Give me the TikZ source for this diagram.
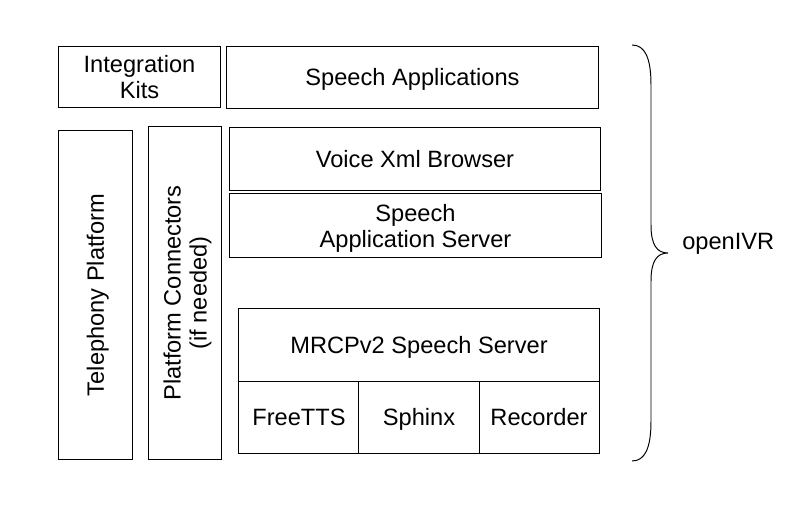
\documentclass[tikz,border=0pt]{standalone}
\usepackage{fontspec}
\setmainfont{Liberation Sans}
\usepackage{tikz}
\usetikzlibrary{positioning}

\tikzset{
  block/.style={draw, line width=0.7pt, inner sep=0pt, outer sep=0pt, align=center,
    font=\fontsize{16.8}{18.5}\selectfont},
  oneline/.style={text height=15.5pt, text depth=3.5pt},
  twoline/.style={text depth=0pt},
  wide/.style={block, minimum width=9.275cm, minimum height=1.55cm},
  tall/.style={block, rotate=90, minimum width=8.25cm, minimum height=1.8cm},
  engine/.style={block, oneline, minimum width=3cm, minimum height=1.8cm}
}

\begin{document}
\begin{tikzpicture}[x=0.025cm, y=-0.025cm]
        \useasboundingbox (0,0) rectangle (798,518);

        \node[block, twoline] (kits) [minimum width=4.025cm, minimum height=1.5cm] at (139.5,77) {Integration\\Kits};
        \node[wide, oneline] (apps) [minimum height=1.525cm] at (412.5,77.5) {Speech Applications};
        \node[tall, oneline] (tel) [minimum width=8.2cm, minimum height=1.825cm] at (95.5,295) {Telephony Platform};
        \node[tall, twoline] (conn) [minimum width=8.3cm] at (185,293) {Platform Connectors\\(if needed)};
        \node[wide, oneline] (vxml) [minimum width=9.25cm] at (415,159) {Voice Xml Browser};
        \node[wide, twoline] (sas) [minimum height=1.575cm] at (415.5,225.5) {Speech\\Application Server};
        \node[block, oneline] (mrcp) [minimum width=9cm, minimum height=1.8cm] at (419,345) {MRCPv2 Speech Server};
        \node[engine] (tts) [below right = 0pt and 0pt of mrcp.south west] {FreeTTS};
        \node[engine] (sphinx) [right = 0pt of tts] {Sphinx};
        \node[engine] (rec) [right = 0pt of sphinx] {Recorder};

        % brace
        \coordinate (tip) at (668,253);
        \draw[line width=0.7pt] (632,45) .. controls (645,45) and (651,58) .. (651,85)
          -- (651,225) .. controls (651,245) and (657,253) .. (tip)
          .. controls (657,253) and (651,261) .. (651,281)
          -- (651,421) .. controls (651,448) and (645,461) .. (632,461);
        \node[font=\fontsize{16.8}{18.5}\selectfont, anchor=west, inner sep=0pt] (ivr) at (682,244) {openIVR};
    \end{tikzpicture}
\end{document}
